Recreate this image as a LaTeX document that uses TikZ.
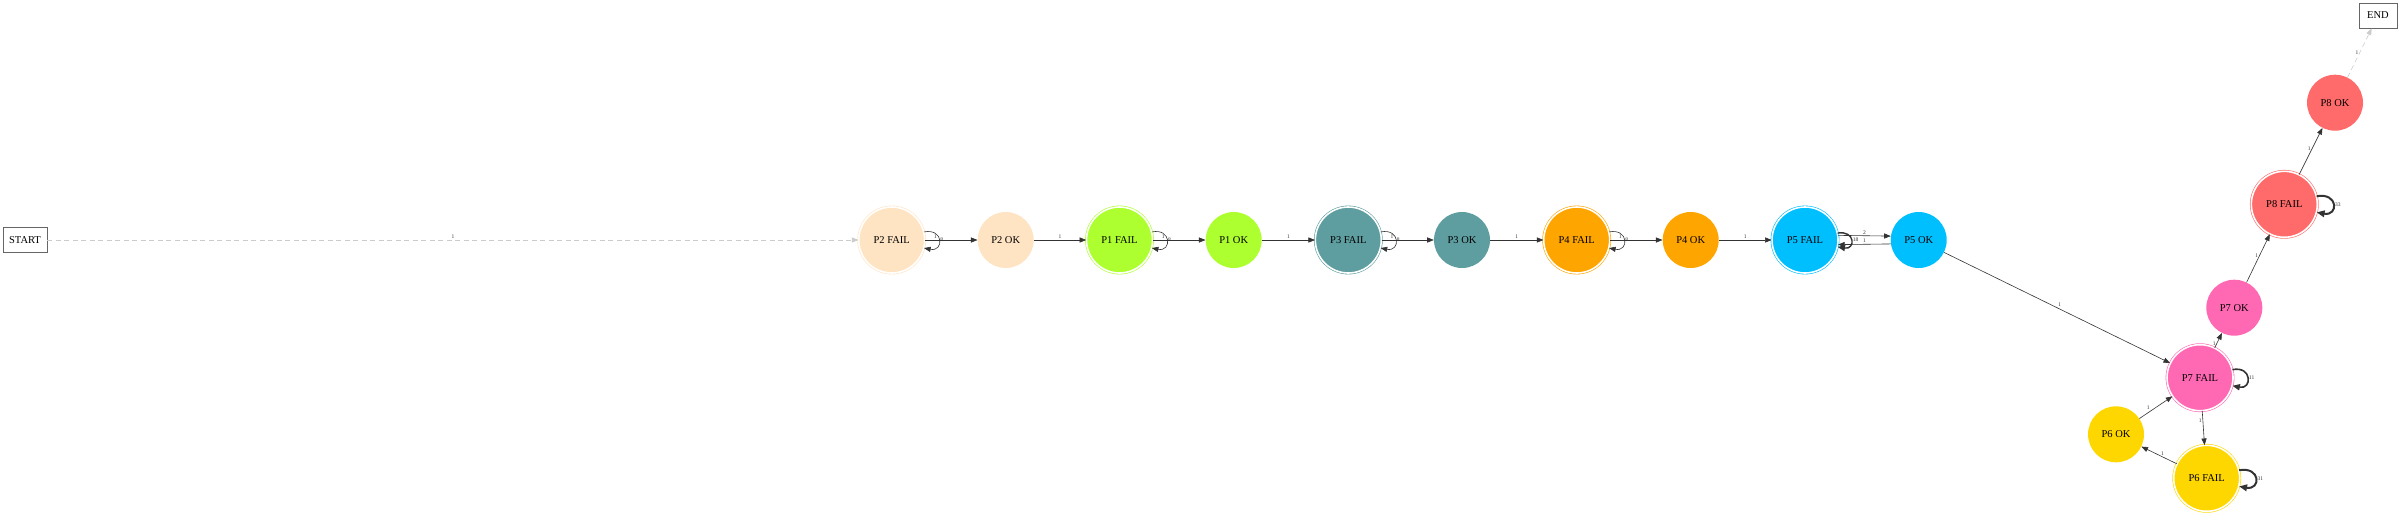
\documentclass[tikz,border=0pt]{standalone}
\usepackage{fontspec}
\setmainfont{Liberation Serif}
\usetikzlibrary{arrows.meta}
% 各组状态的颜色
\definecolor{colPtwo}{HTML}{FFE4C4}
\definecolor{colPone}{HTML}{ADFF2F}
\definecolor{colPthree}{HTML}{5F9EA0}
\definecolor{colPfour}{HTML}{FFA500}
\definecolor{colPfive}{HTML}{00BFFF}
\definecolor{colPsix}{HTML}{FFD700}
\definecolor{colPseven}{HTML}{FF69B4}
\definecolor{colPeight}{HTML}{FF6A6A}
\begin{document}
\begin{tikzpicture}[x=1pt,y=-1pt,
    state/.style={circle, inner sep=0pt, font=\fontsize{10.5}{12}\selectfont},
    okstate/.style={state, minimum size=56pt, fill=#1},
    failstate/.style={state, minimum size=66pt, fill=#1, draw=#1, line width=0.6pt,
        double=white, double distance=1.6pt},
    termbox/.style={draw=black!60, line width=0.8pt, fill=white, inner sep=0pt,
        minimum height=25pt, font=\fontsize{10.5}{12}\selectfont},
    edge/.style={draw=black!80, line width=0.6pt, -{Triangle[length=6pt 1,width=4.5pt 1]}},
    ghost/.style={draw=black!20, line width=0.6pt, dash pattern=on 5pt off 3.5pt,
        -{Triangle[length=6pt 1,width=4.5pt 1]}},
    lbl/.style={font=\fontsize{5.5}{6}\selectfont, inner sep=1pt, text=black!80}
  ]
  % 图片范围(与原图 2400x517 相同)
  \useasboundingbox (0,0) rectangle (2400,517);

  % 起点与终点
  \node[termbox, minimum width=44pt] (start) at (25,240) {START};
  \node[termbox, minimum width=38pt] (stop) at (2378,15.5) {END};

  % 水平一排状态
  \node[failstate=colPtwo]   (ptwof)   at (891.7,240)  {P2 FAIL};
  \node[okstate=colPtwo]     (ptwok)   at (1005.7,240) {P2 OK};
  \node[failstate=colPone]   (ponef)   at (1119.5,240) {P1 FAIL};
  \node[okstate=colPone]     (ponek)   at (1233.7,240) {P1 OK};
  \node[failstate=colPthree] (pthreef) at (1348.3,240) {P3 FAIL};
  \node[okstate=colPthree]   (pthreek) at (1462,240)   {P3 OK};
  \node[failstate=colPfour]  (pfourf)  at (1576.7,240) {P4 FAIL};
  \node[okstate=colPfour]    (pfourk)  at (1690.7,240) {P4 OK};
  \node[failstate=colPfive]  (pfivef)  at (1805,240)   {P5 FAIL};
  \node[okstate=colPfive]    (pfivek)  at (1918.7,240) {P5 OK};

  % 右侧的状态
  \node[failstate=colPseven] (psevenf) at (2200,377.7)   {P7 FAIL};
  \node[okstate=colPseven]   (psevenk) at (2234.3,307.7) {P7 OK};
  \node[okstate=colPsix]     (psixk)   at (2116,434.3)   {P6 OK};
  \node[failstate=colPsix]   (psixf)   at (2206.7,478.3) {P6 FAIL};
  \node[failstate=colPeight] (peightf) at (2284.3,204.3) {P8 FAIL};
  \node[okstate=colPeight]   (peightk) at (2335,102.7)   {P8 OK};

  % 虚线:开始与结束
  \draw[ghost] (start) -- node[lbl, above] {1} (ptwof);
  \draw[ghost] (peightk) -- node[lbl, left] {1} (stop);

  % 水平方向的转移
  \draw[edge] (ptwof) -- node[lbl, above, pos=0.2] {1} (ptwok);
  \draw[edge] (ptwok) -- node[lbl, above] {1} (ponef);
  \draw[edge] (ponef) -- node[lbl, above, pos=0.2] {1} (ponek);
  \draw[edge] (ponek) -- node[lbl, above] {1} (pthreef);
  \draw[edge] (pthreef) -- node[lbl, above, pos=0.2] {1} (pthreek);
  \draw[edge] (pthreek) -- node[lbl, above] {1} (pfourf);
  \draw[edge] (pfourf) -- node[lbl, above, pos=0.2] {1} (pfourk);
  \draw[edge] (pfourk) -- node[lbl, above] {1} (pfivef);
  \draw[edge] (pfivef.8) -- node[lbl, above] {2} (pfivek.172);
  \draw[edge] (pfivek.188) -- node[lbl, above] {1} (pfivef.-8);

  % 右侧的转移
  \draw[edge] (pfivek) -- node[lbl, above right=0pt] {1} (psevenf);
  \draw[edge] (psevenf) -- node[lbl, left, pos=0.3] {1} (psevenk);
  \draw[edge] (psixk) -- node[lbl, above left=0pt, pos=0.35] {1} (psevenf);
  \draw[edge] (psevenf) -- node[lbl, left, pos=0.3] {1} (psixf);
  \draw[edge] (psixf) -- node[lbl, above, pos=0.4] {1} (psixk);
  \draw[edge] (psevenk) -- node[lbl, left, pos=0.55] {1} (peightf);
  \draw[edge] (peightf) -- node[lbl, left, pos=0.55] {1} (peightk);

  % 自环(线宽随次数变化)
  \draw[edge] (ptwof.14) .. controls +(20,-4) and +(20,4) .. node[lbl, right] {8} (ptwof.-14);
  \draw[edge] (ponef.14) .. controls +(20,-4) and +(20,4) .. node[lbl, right] {8} (ponef.-14);
  \draw[edge] (pthreef.14) .. controls +(20,-4) and +(20,4) .. node[lbl, right] {8} (pthreef.-14);
  \draw[edge] (pfourf.14) .. controls +(20,-4) and +(20,4) .. node[lbl, right] {8} (pfourf.-14);
  \draw[edge, line width=1.4pt] (pfivef.12) .. controls +(18,-3) and +(18,3) .. node[lbl, right] {18} (pfivef.-12);
  \draw[edge, line width=1.6pt] (psevenf.14) .. controls +(20,-4) and +(20,4) .. node[lbl, right] {11} (psevenf.-14);
  \draw[edge, line width=2pt] (psixf.14) .. controls +(22,-4) and +(22,4) .. node[lbl, right] {31} (psixf.-14);
  \draw[edge, line width=2pt] (peightf.14) .. controls +(22,-4) and +(22,4) .. node[lbl, right] {33} (peightf.-14);
\end{tikzpicture}
\end{document}
